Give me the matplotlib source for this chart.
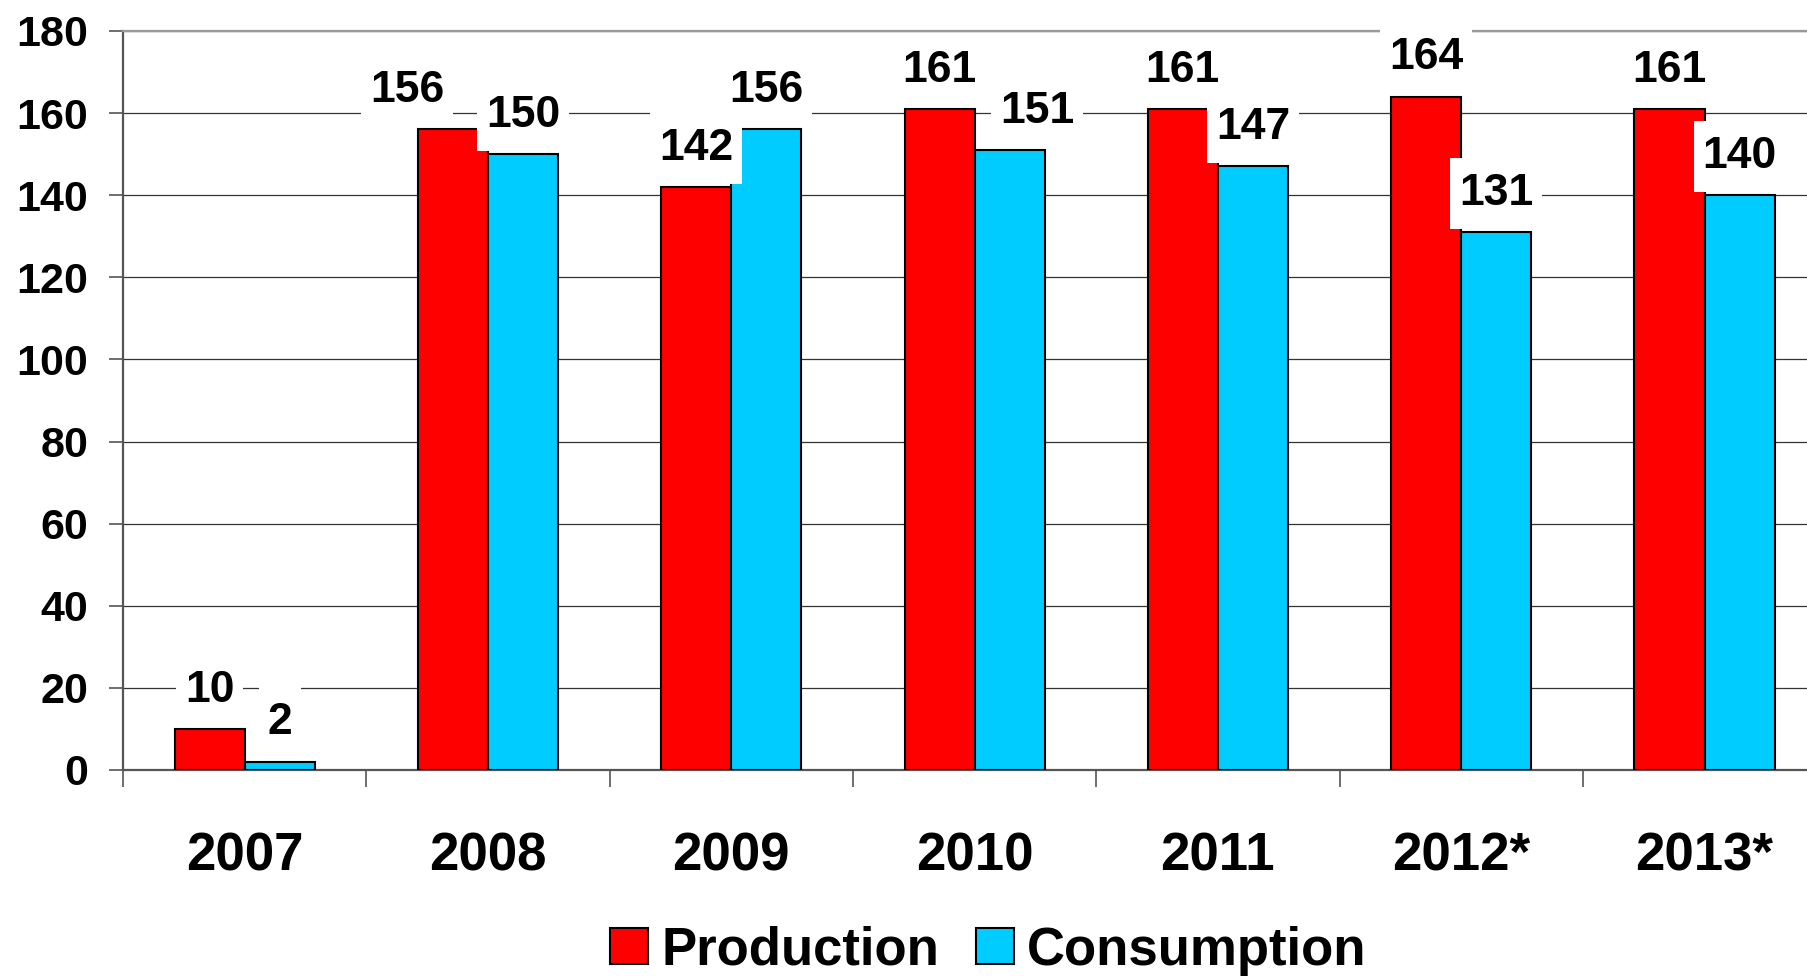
"""Production vs consumption by year, grouped bars with value labels."""
import matplotlib.pyplot as plt
import numpy as np
from matplotlib.path import Path

plt.rcParams["font.family"] = ["Liberation Sans", "DejaVu Sans"]
plt.rcParams["font.weight"] = "bold"

YEARS = ["2007", "2008", "2009", "2010", "2011", "2012*", "2013*"]
PRODUCTION = [10, 156, 142, 161, 161, 164, 161]
CONSUMPTION = [2, 150, 156, 151, 147, 131, 140]

# horizontal nudges (points) of a few value labels, as in the original
PROD_LABEL_DX = [0, -33, 0, 0, 0, 0, 0]
CONS_LABEL_DX = [0, 0, 0, 20, 0, 0, 0]

RED = "#ff0000"
CYAN = "#00ccff"
BAR_W = 0.288


def label_box(x0, y0, width, height, mutation_size):
    # white box: narrow side margins, taller top/bottom margins (Excel-like)
    px, py = 0.2 * mutation_size, 0.34 * mutation_size
    x1, y1 = x0 + width + px, y0 + height + py
    x0, y0 = x0 - px, y0 - py
    return Path([(x0, y0), (x1, y0), (x1, y1), (x0, y1), (x0, y0)], closed=True)


def label(ax, x, v, dx=0, z=5):
    ax.annotate(str(v), xy=(x, v), xytext=(dx, 28), textcoords="offset points",
                ha="center", va="center", fontsize=32, fontweight="bold",
                zorder=z, bbox=dict(boxstyle=label_box, fc="white", ec="none"))


def main() -> None:
    fig = plt.figure(figsize=(18.07, 9.76), dpi=100)
    ax = fig.add_axes([0.0681, 0.2111, 0.9425, 0.7572])
    x = np.arange(len(YEARS))

    ax.bar(x - BAR_W / 2, PRODUCTION, BAR_W, color=RED, edgecolor="black",
           linewidth=1.5, zorder=3, label="Production")
    ax.bar(x + BAR_W / 2, CONSUMPTION, BAR_W, color=CYAN, edgecolor="black",
           linewidth=1.5, zorder=3, label="Consumption")

    # consumption labels first, production labels on top of them
    for i in range(len(YEARS)):
        label(ax, x[i] + BAR_W / 2, CONSUMPTION[i], CONS_LABEL_DX[i], z=5)
    for i in range(len(YEARS)):
        label(ax, x[i] - BAR_W / 2, PRODUCTION[i], PROD_LABEL_DX[i], z=6)

    ax.set_xlim(-0.5, len(YEARS) - 0.5)
    ax.set_ylim(0, 180)
    ax.set_yticks(np.arange(0, 181, 20))
    ax.yaxis.grid(True, color="#333333", linewidth=0.9)
    ax.set_axisbelow(True)

    ax.set_xticks(x)
    ax.set_xticklabels(YEARS, fontsize=38, fontweight="bold")
    ax.set_xticks(np.arange(-0.5, len(YEARS), 1.0), minor=True)
    ax.tick_params(axis="x", which="major", length=0, pad=44)
    ax.tick_params(axis="x", which="minor", length=12, width=1.2, color="#555555")
    ax.tick_params(axis="y", length=10, width=1.2, color="#555555", pad=15,
                   labelsize=31)
    for t in ax.get_yticklabels():
        t.set_fontweight("bold")

    for side in ("left", "bottom"):
        ax.spines[side].set_color("#555555")
        ax.spines[side].set_linewidth(1.6)
    ax.spines["top"].set_color("#999999")
    ax.spines["top"].set_linewidth(1.6)
    ax.spines["right"].set_visible(False)

    fig.legend(loc="center", bbox_to_anchor=(0.547, 0.026), ncol=2, frameon=False,
               prop={"size": 38, "weight": "bold"}, handlelength=0.72,
               handleheight=0.66, handletextpad=0.25, columnspacing=0.7)

    fig.savefig("out.png", dpi=100)
    plt.close(fig)


if __name__ == "__main__":
    main()
